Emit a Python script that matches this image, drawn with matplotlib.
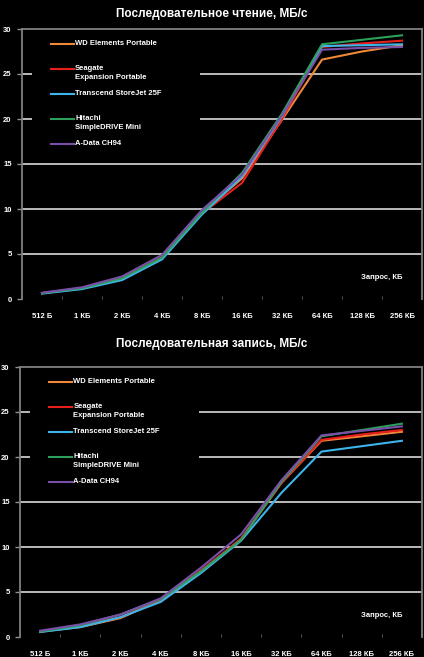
import numpy as np
import matplotlib
matplotlib.use('Agg')
import matplotlib.pyplot as plt

plt.rcParams['font.family'] = ['Liberation Sans', 'DejaVu Sans']

# categories (request size)
sizes = ['512 Б', '1 КБ', '2 КБ', '4 КБ', '8 КБ', '16 КБ', '32 КБ', '64 КБ', '128 КБ', '256 КБ']

names = ['WD Elements Portable', 'Seagate\nExpansion Portable', 'Transcend StoreJet 25F',
         'Hitachi\nSimpleDRIVE Mini', 'A-Data CH94']
colors = ['#F0883A', '#E8201C', '#3DB4EA', '#2CA05A', '#7A4FA8']

# sequential read, MB/s
read_wd      = [0.65, 1.2, 2.2, 4.6, 9.6, 13.4, 19.9, 26.6, 27.5, 28.2]
read_seagate = [0.65, 1.2, 2.2, 4.6, 9.5, 12.9, 20.0, 28.0, 28.4, 28.7]
read_transc  = [0.60, 1.1, 2.1, 4.4, 9.4, 13.6, 20.3, 28.1, 28.2, 28.3]
read_hitachi = [0.65, 1.2, 2.3, 4.6, 9.6, 14.0, 20.6, 28.3, 28.8, 29.3]
read_adata   = [0.70, 1.3, 2.5, 4.9, 9.9, 13.8, 20.4, 27.7, 27.9, 28.0]

# sequential write, MB/s
write_wd      = [0.60, 1.1, 2.1, 4.1, 7.3, 10.9, 17.1, 21.8, 22.3, 22.8]
write_seagate = [0.60, 1.2, 2.2, 4.1, 7.4, 10.9, 17.1, 21.9, 22.5, 23.0]
write_transc  = [0.55, 1.1, 2.2, 3.9, 7.1, 10.7, 16.0, 20.6, 21.2, 21.8]
write_hitachi = [0.60, 1.3, 2.5, 4.2, 7.3, 10.8, 17.2, 22.3, 23.0, 23.7]
write_adata   = [0.70, 1.4, 2.5, 4.3, 7.7, 11.4, 17.4, 22.4, 22.9, 23.4]

read = [read_wd, read_seagate, read_transc, read_hitachi, read_adata]
write = [write_wd, write_seagate, write_transc, write_hitachi, write_adata]

fig = plt.figure(figsize=(4.24, 6.57), dpi=100, facecolor='black')


def chart(rect, series, title, title_y):
    ax = fig.add_axes(rect)
    ax.set_facecolor('black')
    x = np.arange(len(sizes))
    for vals, c in zip(series, colors):
        ax.plot(x, vals, color=c, lw=1.5, zorder=3)
    ax.set_xlim(-0.5, len(sizes) - 0.5)
    ax.set_ylim(0, 30)
    ax.set_yticks(range(0, 31, 5))
    ax.set_xticks(x)
    ax.set_xticklabels(sizes)
    ax.set_xticks(np.arange(-0.5, len(sizes), 1), minor=True)
    ax.tick_params(axis='x', which='major', length=0, pad=10, labelsize=5.5, labelcolor='white')
    ax.tick_params(axis='x', which='minor', length=2, color='#606060', direction='in')
    ax.tick_params(axis='y', length=3.5, color='#909090', width=1, pad=4, labelsize=5.5, labelcolor='white')
    for lab in ax.get_xticklabels() + ax.get_yticklabels():
        lab.set_fontweight('bold')
    for v in range(5, 30, 5):
        ax.axhline(v, color='#c8c8c8', lw=1.3, zorder=1)
    for s in ['left', 'top', 'right']:
        ax.spines[s].set_color('#808080')
        ax.spines[s].set_linewidth(1.3)
    ax.spines['bottom'].set_visible(False)
    # legend panel (black box over the gridlines)
    ax.add_patch(plt.Rectangle((0.025, 0.55), 0.42, 0.43, transform=ax.transAxes,
                               facecolor='black', edgecolor='none', zorder=2))
    for i, (name, c) in enumerate(zip(names, colors)):
        yy = 0.944 - i * 25 / 270
        ax.plot([0.072, 0.13], [yy, yy], color=c, lw=1.5, transform=ax.transAxes, zorder=4)
        ax.text(0.133, yy + 0.015, name, transform=ax.transAxes, color='white', fontsize=5.5,
                fontweight='bold', va='top', ha='left', linespacing=1.45, zorder=4)
    ax.text(0.90, 0.08, 'Запрос, КБ', transform=ax.transAxes, color='white', fontsize=5.5,
            fontweight='bold', ha='center', va='center')
    fig.text(0.5, title_y, title, color='white', fontsize=8.5, fontweight='bold',
             ha='center', va='center')
    return ax


chart([22 / 424, 358 / 657, 400 / 424, 270 / 657], read,
      'Последовательное чтение, МБ/с', 1 - 14 / 657)
chart([20 / 424, 20 / 657, 402 / 424, 270 / 657], write,
      'Последовательная запись, МБ/с', 1 - 344 / 657)

fig.savefig('out.png', dpi=100, facecolor='black')
